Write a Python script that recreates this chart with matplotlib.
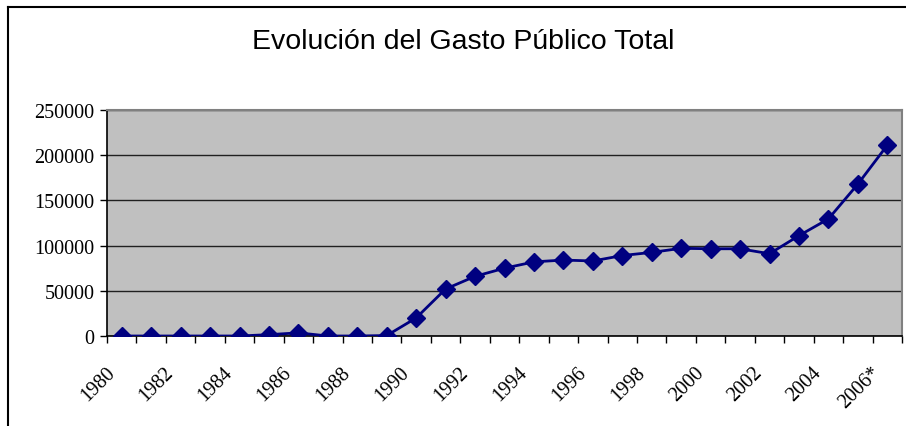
import numpy as np
import matplotlib.pyplot as plt
from matplotlib.lines import Line2D

years = ["1980", "1981", "1982", "1983", "1984", "1985", "1986", "1987", "1988",
         "1989", "1990", "1991", "1992", "1993", "1994", "1995", "1996", "1997",
         "1998", "1999", "2000", "2001", "2002", "2003", "2004", "2005", "2006*"]
gasto = [0, 0, 0, 0, 0, 1500, 3500, 0, 0, 500, 20000, 52000, 66000, 75000,
         82000, 84000, 83000, 89000, 92500, 97000, 96500, 96500, 91000,
         111000, 129500, 168000, 211000]
y_ticks = [0, 50000, 100000, 150000, 200000, 250000]


def main():
    W, H = 906, 427
    fig = plt.figure(figsize=(W / 100, H / 100), dpi=100)
    ax = fig.add_axes([107 / W, 1 - 337 / H, (902 - 107) / W, (337 - 111) / H])

    n = len(years)
    x = np.arange(n) + 0.5
    ax.set_facecolor("#C0C0C0")
    ax.plot(x, gasto, color="#000080", lw=2, marker="D", markersize=9, zorder=3)

    ax.set_xlim(0, n)
    ax.set_ylim(0, 250000)
    ax.set_yticks(y_ticks)
    ax.set_yticklabels([str(v) for v in y_ticks], fontfamily="Liberation Serif", fontsize=14.5)
    ax.grid(axis="y", color="#202020", lw=1)
    ax.set_axisbelow(True)

    # ticks at category boundaries, labels every second year
    ax.set_xticks(np.arange(n + 1))
    ax.set_xticklabels([])
    for i in range(0, n, 2):
        ax.annotate(years[i], xy=(x[i], 0), xycoords=("data", "axes fraction"),
                    xytext=(-7, -24), textcoords="offset points",
                    rotation=45, rotation_mode="anchor", ha="right", va="center",
                    fontfamily="Liberation Serif", fontsize=14.5)

    ax.tick_params(axis="both", direction="out", length=5, width=1, color="black")
    ax.tick_params(axis="y", pad=4)
    for s in ["left", "bottom"]:
        ax.spines[s].set_color("black")
        ax.spines[s].set_linewidth(1.2)
    for s in ["top", "right"]:
        ax.spines[s].set_color("#808080")
        ax.spines[s].set_linewidth(1.5)

    fig.text(463 / W, 1 - 42 / H, "Evolución del Gasto Público Total",
             ha="center", va="center", fontfamily="Liberation Sans", fontsize=20.5)

    # outer chart frame (left and top edges visible)
    fig.add_artist(Line2D([7.5 / W, 7.5 / W], [0, 1 - 7.5 / H], color="black", lw=1.5,
                          transform=fig.transFigure))
    fig.add_artist(Line2D([7.5 / W, 1], [1 - 7.5 / H, 1 - 7.5 / H], color="black", lw=1.5,
                          transform=fig.transFigure))

    fig.savefig("out.png", dpi=100)


if __name__ == "__main__":
    main()
